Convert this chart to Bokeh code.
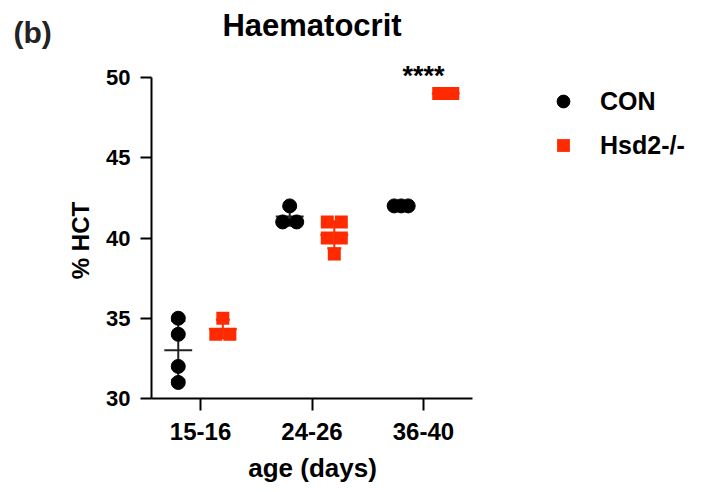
import numpy as np
from bokeh.plotting import figure
from bokeh.models import Range1d, FixedTicker, Label, Legend, LegendItem
from bokeh.embed import file_html
from bokeh.resources import INLINE

# ---------------- data ----------------
groups = ["15-16", "24-26", "36-40"]
con_values = [[35, 34, 32, 31], [42, 41, 41], [42, 42, 42]]
hsd2_values = [[35, 34, 34], [41, 41, 40, 40, 39], [49, 49, 49]]
y_ticks = [30, 35, 40, 45, 50]
series_names = ["CON", "Hsd2-/-"]
significance = ["", "", "****"]

CON_COLOR = "black"
HSD_COLOR = "#ff2a00"
FONT = "Liberation Sans"

# geometry of the data area inside the 704x492 canvas (pixels)
W, H = 704, 492
FL, FR, FT, FB = 151, 472, 77, 398
X0, X1 = -0.44, len(groups) - 1 + 0.44
Y0, Y1 = y_ticks[0], y_ticks[-1]

DODGE = 0.2      # group offset of each series
JIT = 0.063      # horizontal spread for tied values
MEAN_HW = 0.125  # half width of mean line
CAP_HW = 0.063   # half width of error bar caps


def px_to_x(px):
    return X0 + (px - FL) * (X1 - X0) / (FR - FL)


def px_to_y(py):
    return Y1 - (py - FT) * (Y1 - Y0) / (FB - FT)


def point_positions(values, dodge):
    xs, ys = [], []
    for gi, vals in enumerate(values):
        counts = {}
        for v in vals:
            counts[v] = counts.get(v, 0) + 1
        for v, n in counts.items():
            offs = np.linspace(-JIT, JIT, n) if n > 1 else [0.0]
            for o in offs:
                xs.append(gi + dodge + o)
                ys.append(v)
    return xs, ys


def stats_segments(values, dodge):
    x0, y0, x1, y1 = [], [], [], []
    for gi, vals in enumerate(values):
        arr = np.array(vals, dtype=float)
        m = arr.mean()
        sd = arr.std(ddof=1) if len(arr) > 1 else 0.0
        gx = gi + dodge
        x0 += [gx - MEAN_HW]; x1 += [gx + MEAN_HW]; y0 += [m]; y1 += [m]
        x0 += [gx]; x1 += [gx]; y0 += [m - sd]; y1 += [m + sd]
        for c in (m - sd, m + sd):
            x0 += [gx - CAP_HW]; x1 += [gx + CAP_HW]; y0 += [c]; y1 += [c]
    return dict(x0=x0, y0=y0, x1=x1, y1=y1)


# the frame covers the whole canvas; axes are pinned at the data-area edges
p = figure(width=W, height=H, output_backend="svg", toolbar_location=None,
           x_range=Range1d(px_to_x(0), px_to_x(W)),
           y_range=Range1d(px_to_y(H), px_to_y(0)),
           min_border_left=0, min_border_right=0,
           min_border_top=0, min_border_bottom=0)
p.outline_line_color = None
p.xgrid.visible = False
p.ygrid.visible = False
p.background_fill_color = "white"
p.border_fill_color = "white"

# error bars (mean +/- SD)
s = stats_segments(con_values, -DODGE)
p.segment(x0=s["x0"], y0=s["y0"], x1=s["x1"], y1=s["y1"], line_color="#222222", line_width=2)
s = stats_segments(hsd2_values, DODGE)
p.segment(x0=s["x0"], y0=s["y0"], x1=s["x1"], y1=s["y1"], line_color=HSD_COLOR, line_width=2)

# points
cx, cy = point_positions(con_values, -DODGE)
r_con = p.scatter(cx, cy, marker="circle", size=14, fill_color=CON_COLOR, line_color=CON_COLOR)
hx, hy = point_positions(hsd2_values, DODGE)
r_hsd = p.scatter(hx, hy, marker="square", size=13, fill_color=HSD_COLOR, line_color=HSD_COLOR, line_width=0)

# axes
for ax in (p.xaxis[0], p.yaxis[0]):
    ax.axis_line_width = 2
    ax.major_tick_line_width = 2
    ax.major_tick_in = 0
    ax.minor_tick_line_color = None
    ax.major_label_text_font = FONT
    ax.major_label_text_font_style = "bold"
    ax.major_label_text_color = "black"
    ax.axis_line_color = "black"
    ax.major_tick_line_color = "black"

p.xaxis.ticker = FixedTicker(ticks=list(range(len(groups))))
p.xaxis.major_label_overrides = {i: g for i, g in enumerate(groups)}
p.xaxis.major_tick_out = 12
p.xaxis.major_label_text_font_size = "24px"
p.xaxis.major_label_standoff = 12
p.xaxis.fixed_location = Y0
p.xaxis.bounds = (X0, X1)

p.yaxis.ticker = FixedTicker(ticks=y_ticks)
p.yaxis.major_tick_out = 11
p.yaxis.major_label_text_font_size = "22px"
p.yaxis.major_label_standoff = 10
p.yaxis.fixed_location = X0
p.yaxis.bounds = (Y0, Y1)


def add_text(x, y, text, size, align="left", baseline="alphabetic", angle=0.0, color="black"):
    p.add_layout(Label(x=x, y=y, text=text, angle=angle,
                       text_align=align, text_baseline=baseline,
                       text_font=FONT, text_font_style="bold", text_font_size=size,
                       text_color=color))


# axis titles
add_text(px_to_x(312), px_to_y(467), "age (days)", "26px", align="center")
add_text(px_to_x(80), px_to_y(240), "% HCT", "24px", align="center", angle=np.pi / 2)

# significance marks
for gi, txt in enumerate(significance):
    if txt:
        add_text(gi, px_to_y(75), txt, "27px", align="center")

# title and panel letter
add_text(1, px_to_y(25), "Haematocrit", "31px", align="center")
add_text(px_to_x(13), px_to_y(32), "(b)", "30px", color="#222222")

# legend
legend = Legend(items=[LegendItem(label=series_names[0], renderers=[r_con]),
                       LegendItem(label=series_names[1], renderers=[r_hsd])],
                location=(547, H - 161), orientation="vertical",
                glyph_width=32, glyph_height=32, label_height=32, spacing=12,
                label_standoff=21, padding=0, margin=0,
                border_line_color=None, background_fill_alpha=0,
                label_text_font=FONT, label_text_font_style="bold",
                label_text_font_size="25px", label_text_color="black",
                label_text_baseline="middle")
p.add_layout(legend, "center")

open("out.html", "w").write(file_html(p, INLINE))
